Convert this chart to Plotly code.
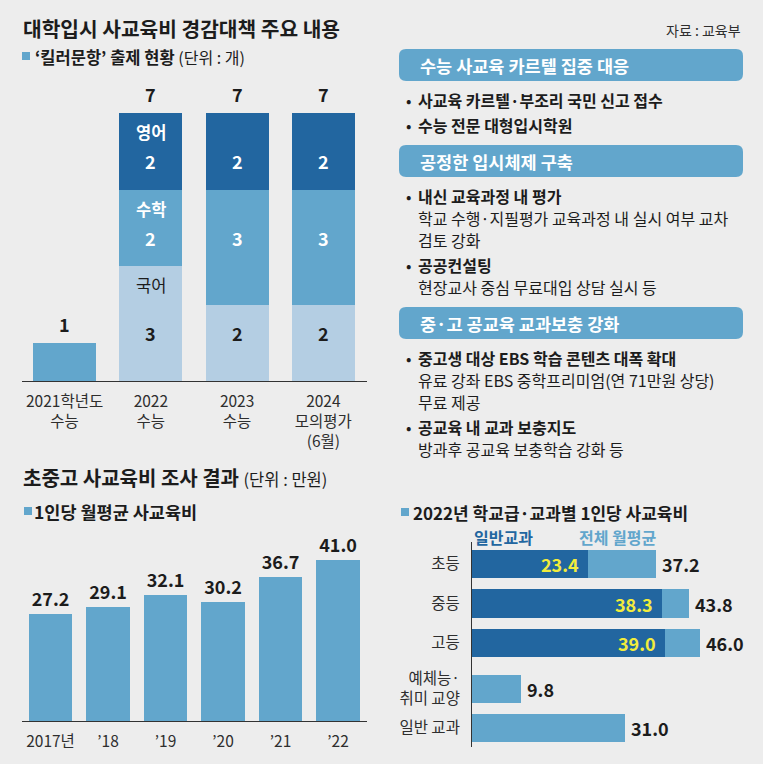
import plotly.graph_objects as go

W, H = 763, 764
BG = "#ededed"
DARK = "#2266a0"
MID = "#62a6cc"
LIGHT = "#b4cee3"
INK = "#1c1c1c"
GREY = "#2e2e2e"
YELLOW = "#f2ec3c"
FONT = "Noto Sans CJK KR"


def px(x):
    return x / W


def py(y):
    return 1 - y / H


# ---------------- data ----------------
# 'killer question' counts
killer_labels = ["2021학년도<br>수능", "2022<br>수능", "2023<br>수능", "2024<br>모의평가<br>(6월)"]
killer_all = [1, None, None, None]          # 2021: not split by subject
killer_kor = [None, 3, 2, 2]
killer_math = [None, 2, 3, 3]
killer_eng = [None, 2, 2, 2]
subject_names = ["국어", "수학", "영어"]

# monthly private education spending per student (만원)
spend_years = ["2017년", "’18", "’19", "’20", "’21", "’22"]
spend_values = [27.2, 29.1, 32.1, 30.2, 36.7, 41.0]

# 2022 by school level / subject
level_names = ["초등", "중등", "고등"]
level_general = [23.4, 38.3, 39.0]
level_total = [37.2, 43.8, 46.0]
subject_cats = ["예체능·<br>취미 교양", "일반 교과"]
subject_values = [9.8, 31.0]

# right text panel
panel_titles = ["수능 사교육 카르텔 집중 대응", "공정한 입시체제 구축", "중·고 공교육 교과보충 강화"]
panel_items = [
    [["사교육 카르텔·부조리 국민 신고 접수"], ["수능 전문 대형입시학원"]],
    [["내신 교육과정 내 평가", "학교 수행·지필평가 교육과정 내 실시 여부 교차", "검토 강화"],
     ["공공컨설팅", "현장교사 중심 무료대입 상담 실시 등"]],
    [["중고생 대상 EBS 학습 콘텐츠 대폭 확대", "유료 강좌 EBS 중학프리미엄(연 71만원 상당)", "무료 제공"],
     ["공교육 내 교과 보충지도", "방과후 공교육 보충학습 강화 등"]],
]

fig = go.Figure()

# ---------------- chart 1: stacked bars ----------------
fig.add_trace(go.Bar(x=killer_labels, y=killer_all, marker_color=MID, width=0.73,
                     marker_line_width=0, xaxis="x", yaxis="y"))
killer_series = [killer_kor, killer_math, killer_eng]
seg_colors = [LIGHT, MID, DARK]
for vals, col in zip(killer_series, seg_colors):
    fig.add_trace(go.Bar(x=killer_labels, y=vals, marker_color=col, width=0.73,
                         marker_line_width=0, xaxis="x", yaxis="y"))

annotations = []
# totals above bars
for i, lab in enumerate(killer_labels):
    total = sum(v for v in [killer_all[i], killer_kor[i], killer_math[i], killer_eng[i]] if v is not None)
    annotations.append(dict(x=lab, y=total, xref="x", yref="y", text=f"<b>{total}</b>",
                            showarrow=False, yanchor="bottom", yshift=4,
                            font=dict(size=18, color=INK, family=FONT)))

# segment labels, vertically aligned on the first split column
ref = next(i for i, v in enumerate(killer_kor) if v is not None)
bottom = 0
label_y = []
for vals in killer_series:
    top = bottom + vals[ref]
    name_y = top - 0.5
    label_y.append((name_y, (bottom + name_y) / 2))
    bottom = top
text_cols = [INK, "white", "white"]
for s, vals in enumerate(killer_series):
    name_y, val_y = label_y[s]
    for i, lab in enumerate(killer_labels):
        if vals[i] is None:
            continue
        annotations.append(dict(x=lab, y=val_y, xref="x", yref="y", text=f"<b>{vals[i]}</b>",
                                showarrow=False, font=dict(size=18, color=text_cols[s], family=FONT)))
        if i == ref:
            annotations.append(dict(x=lab, y=name_y, xref="x", yref="y",
                                    text=(f"<b>{subject_names[s]}</b>" if s > 0 else subject_names[s]),
                                    showarrow=False,
                                    font=dict(size=16.5, color=text_cols[s], family=FONT)))

# ---------------- chart 2: yearly bars ----------------
fig.add_trace(go.Bar(x=spend_years, y=spend_values, marker_color=MID, width=0.75,
                     marker_line_width=0, xaxis="x2", yaxis="y2",
                     text=[f"<b>{v:.1f}</b>" for v in spend_values], textposition="outside",
                     textfont=dict(size=18, color=INK, family=FONT), cliponaxis=False))

# ---------------- chart 3: horizontal bars ----------------
fig.add_trace(go.Bar(y=level_names, x=level_general, orientation="h", marker_color=DARK,
                     width=0.71, marker_line_width=0, xaxis="x3", yaxis="y3"))
fig.add_trace(go.Bar(y=level_names, x=[t - g for t, g in zip(level_total, level_general)],
                     orientation="h", marker_color=MID, width=0.71, marker_line_width=0,
                     xaxis="x3", yaxis="y3"))
fig.add_trace(go.Bar(y=subject_cats, x=subject_values, orientation="h", marker_color=MID,
                     width=0.72, marker_line_width=0, xaxis="x4", yaxis="y4"))

for n, g, t in zip(level_names, level_general, level_total):
    annotations.append(dict(x=g, y=n, xref="x3", yref="y3", text=f"<b>{g:.1f}</b>", showarrow=False,
                            xanchor="right", xshift=-7, font=dict(size=18, color=YELLOW, family=FONT)))
    annotations.append(dict(x=t, y=n, xref="x3", yref="y3", text=f"<b>{t:.1f}</b>", showarrow=False,
                            xanchor="left", xshift=4, font=dict(size=18, color=INK, family=FONT)))
for n, v in zip(subject_cats, subject_values):
    annotations.append(dict(x=v, y=n, xref="x4", yref="y4", text=f"<b>{v:.1f}</b>", showarrow=False,
                            xanchor="left", xshift=4, font=dict(size=18, color=INK, family=FONT)))


# ---------------- text & decorations ----------------
def txt(x, y, text, size, color=INK, anchor="left"):
    annotations.append(dict(x=px(x), y=py(y), xref="paper", yref="paper", text=text,
                            showarrow=False, xanchor=anchor, yanchor="middle",
                            font=dict(size=size, color=color, family=FONT)))


txt(21, 28, "<b>대학입시 사교육비 경감대책 주요 내용</b>", 20.3)
txt(743, 30, "자료 : 교육부", 14, GREY, anchor="right")
txt(33, 57, "<b>‘킬러문항’ 출제 현황</b> <span style='font-size:16px'>(단위 : 개)</span>", 16.5)
txt(21, 477, "<b>초중고 사교육비 조사 결과</b> <span style='font-size:16.5px'>(단위 : 만원)</span>", 20)
txt(32, 511, "<b>1인당 월평균 사교육비</b>", 17.5)
txt(411, 512, "<b>2022년 학교급·교과별 1인당 사교육비</b>", 17)
txt(472, 537, "<b>일반교과</b>", 16, DARK)
txt(577, 537, "<b>전체 월평균</b>", 16, MID)

shapes = []


def square(x0, y0, size=8):
    shapes.append(dict(type="rect", xref="paper", yref="paper", x0=px(x0), x1=px(x0 + size),
                       y0=py(y0 + size), y1=py(y0), fillcolor=MID, line=dict(width=0)))


square(22, 52)
square(24, 507)
square(401, 508)


def rrect(x0, y0, x1, y1, r):
    X = lambda v: f"{px(v):.5f}"
    Y = lambda v: f"{py(v):.5f}"
    return (f"M {X(x0 + r)},{Y(y0)} L {X(x1 - r)},{Y(y0)} Q {X(x1)},{Y(y0)} {X(x1)},{Y(y0 + r)} "
            f"L {X(x1)},{Y(y1 - r)} Q {X(x1)},{Y(y1)} {X(x1 - r)},{Y(y1)} "
            f"L {X(x0 + r)},{Y(y1)} Q {X(x0)},{Y(y1)} {X(x0)},{Y(y1 - r)} "
            f"L {X(x0)},{Y(y0 + r)} Q {X(x0)},{Y(y0)} {X(x0 + r)},{Y(y0)} Z")


box_top = 49
for title, items in zip(panel_titles, panel_items):
    shapes.append(dict(type="path", xref="paper", yref="paper", path=rrect(399, box_top, 743, box_top + 32, 7),
                       fillcolor=MID, line=dict(width=0), layer="below"))
    txt(418, box_top + 16, f"<b>{title}</b>", 17.5, "white")
    y = box_top + 32 + 19
    for k, item in enumerate(items):
        if k > 0:
            y += 3
        txt(404, y, "•", 16)
        txt(416, y, f"<b>{item[0]}</b>", 16)
        for sub in item[1:]:
            y += 22
            txt(416, y, sub, 16)
        y += 22
    box_top = y - 22 + 20

# ---------------- layout ----------------
axis_off = dict(visible=False, showgrid=False, zeroline=False, fixedrange=True)
fig.update_layout(
    width=W, height=H, margin=dict(l=0, r=0, t=0, b=0),
    paper_bgcolor=BG, plot_bgcolor="rgba(0,0,0,0)",
    barmode="stack", bargap=0.2, showlegend=False,
    font=dict(family=FONT, color=INK),
    xaxis=dict(domain=[px(22), px(367)], range=[-0.494, 3.506], type="category",
               showline=True, linecolor="#333", linewidth=1, showgrid=False, zeroline=False,
               ticks="", ticklabelstandoff=6, tickfont=dict(size=15.5, color=GREY, family=FONT)),
    yaxis=dict(domain=[py(381), py(75)], range=[0, 8], **axis_off),
    xaxis2=dict(domain=[px(22), px(367)], range=[-0.496, 5.504], type="category", anchor="y2",
                showline=True, linecolor="#333", linewidth=1, showgrid=False, zeroline=False,
                ticks="", ticklabelstandoff=6, tickfont=dict(size=15.5, color=GREY, family=FONT)),
    yaxis2=dict(domain=[py(721), py(524.5)], range=[0, 50], anchor="x2", **axis_off),
    xaxis3=dict(domain=[px(472), px(745)], range=[0, 55.15], anchor="y3", **axis_off),
    yaxis3=dict(domain=[py(666), py(542)], range=[2.582, -0.557], type="category", anchor="x3",
                showline=True, linecolor="#333", linewidth=1, showgrid=False, zeroline=False,
                ticks="", ticklabelstandoff=8, tickfont=dict(size=15.5, color=GREY, family=FONT)),
    xaxis4=dict(domain=[px(472), px(745)], range=[0, 55.15], anchor="y4", **axis_off),
    yaxis4=dict(domain=[py(747), py(666)], range=[1.487, -0.59], type="category", anchor="x4",
                showline=True, linecolor="#333", linewidth=1, showgrid=False, zeroline=False,
                ticks="", ticklabelstandoff=8, tickfont=dict(size=15.5, color=GREY, family=FONT)),
    annotations=annotations,
    shapes=shapes,
)

fig.write_html(
    "out.html",
    config={"displayModeBar": False},
    post_script="document.body.style.margin='0';document.body.style.background='%s';" % BG,
)
